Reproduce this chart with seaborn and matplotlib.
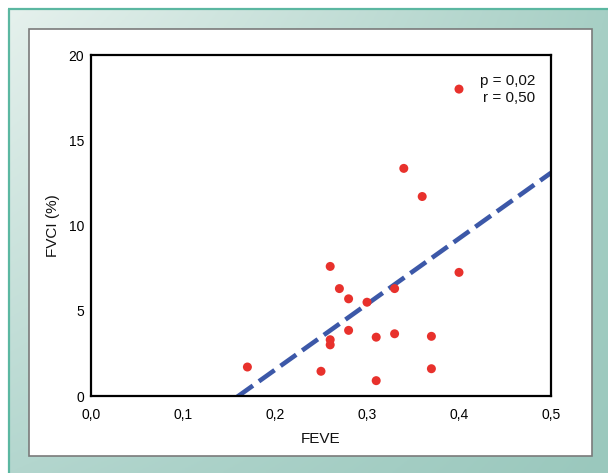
import numpy as np
import pandas as pd
import matplotlib
matplotlib.use("Agg")
import matplotlib.pyplot as plt
from matplotlib.patches import Rectangle
import seaborn as sns

# ---- data ----
feve = [0.17, 0.25, 0.26, 0.26, 0.26, 0.27, 0.28, 0.28, 0.30, 0.31,
        0.31, 0.33, 0.33, 0.34, 0.36, 0.37, 0.37, 0.40, 0.40]
fvci = [1.7, 1.45, 3.3, 3.0, 7.6, 6.3, 5.7, 3.85, 5.5, 3.45,
        0.9, 6.3, 3.65, 13.35, 11.7, 3.5, 1.6, 7.25, 18.0]
x_ticks = [0.0, 0.1, 0.2, 0.3, 0.4, 0.5]
x_tick_labels = ["0,0", "0,1", "0,2", "0,3", "0,4", "0,5"]
y_ticks = [0, 5, 10, 15, 20]
y_tick_labels = ["0", "5", "10", "15", "20"]
stats_lines = ["p = 0,02", "r = 0,50"]

df = pd.DataFrame({"FEVE": feve, "FVCI": fvci})

sns.set_theme(style="white")
plt.rcParams['font.family'] = ['Liberation Sans', 'DejaVu Sans']

W, H = 608, 473
fig = plt.figure(figsize=(W / 100, H / 100), dpi=100)

# ---- background: gradient frame ----
bg = fig.add_axes([0, 0, 1, 1], zorder=0)
bg.set_xlim(0, W)
bg.set_ylim(H, 0)
bg.axis("off")

def hx(c):
    c = c.lstrip('#')
    return np.array([int(c[i:i + 2], 16) / 255 for i in (0, 2, 4)])

tl, tr, bl, br = hx('#e6f1ed'), hx('#a7cfc5'), hx('#b3d6ce'), hx('#9ac8bd')
u = np.linspace(0, 1, 200)[None, :, None]
v = np.linspace(0, 1, 160)[:, None, None]
grad = (1 - u) * (1 - v) * tl + u * (1 - v) * tr + (1 - u) * v * bl + u * v * br
bg.imshow(grad, extent=(8, W, H, 9), aspect='auto', zorder=1)
bg.plot([8, W], [9.5, 9.5], color='#5bb7a1', lw=1.6, zorder=2, solid_capstyle='butt')
bg.plot([8.5, 8.5], [9, H], color='#5bb7a1', lw=1.6, zorder=2, solid_capstyle='butt')
bg.add_patch(Rectangle((29, 29), 563, 427, facecolor='white',
                       edgecolor='#7a7a7a', lw=1.2, zorder=3))

# ---- main chart ----
ax = fig.add_axes([91 / W, 1 - 396 / H, (551 - 91) / W, (396 - 55) / H], zorder=5)
ax.set_facecolor('white')
ax.set_xlim(0, 0.5)
ax.set_ylim(0, 20)

sns.regplot(data=df, x="FEVE", y="FVCI", ax=ax, scatter=False, ci=None,
            truncate=False, color='#3c58a8',
            line_kws={'linestyle': (0, (4.2, 1.6)), 'linewidth': 3.3,
                      'zorder': 2, 'dash_capstyle': 'butt'})
sns.scatterplot(data=df, x="FEVE", y="FVCI", ax=ax, color='#e8312c',
                s=42, edgecolor='none', linewidth=0, zorder=3)

ax.set_xlim(0, 0.5)
ax.set_ylim(0, 20)
ax.set_xticks(x_ticks)
ax.set_xticklabels(x_tick_labels)
ax.set_yticks(y_ticks)
ax.set_yticklabels(y_tick_labels)
ax.tick_params(axis='both', direction='inout', length=4, width=1.6,
               colors='black', labelsize=10)
ax.tick_params(axis='x', pad=6.5)
ax.tick_params(axis='y', pad=3)
for s in ax.spines.values():
    s.set_visible(True)
    s.set_color('black')
    s.set_linewidth(1.6)

ax.set_xlabel("FEVE", fontsize=11, labelpad=7, color='#111111')
ax.set_ylabel("FVCI (%)", fontsize=11, labelpad=6, color='#111111')

ax.text(0.483, 18.24, stats_lines[0], ha='right', va='baseline', fontsize=11, color='#111111')
ax.text(0.483, 17.24, stats_lines[1], ha='right', va='baseline', fontsize=11, color='#111111')

fig.savefig("out.png", dpi=100)
